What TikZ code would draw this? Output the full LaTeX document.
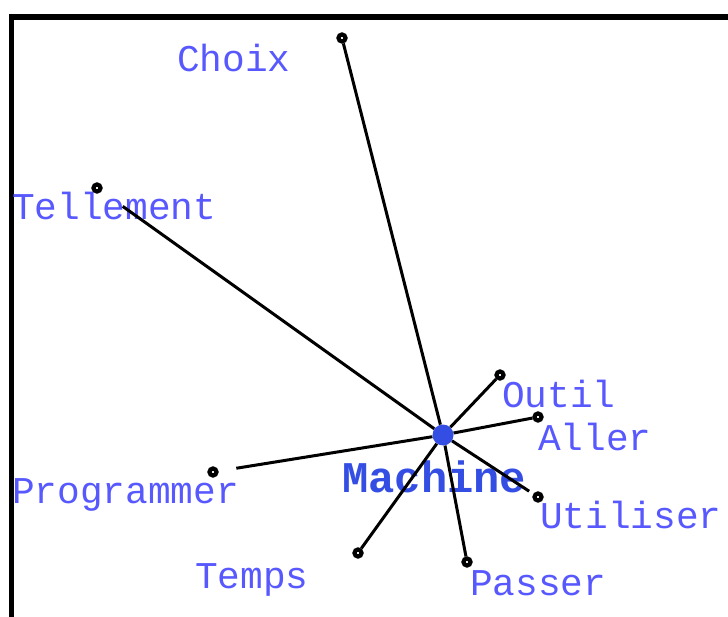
\documentclass[tikz,border=0pt]{standalone}
\usepackage{fontspec}
\usepackage{xcolor}
\newfontfamily\wordfont{Liberation Mono}
\definecolor{wordblue}{RGB}{88,88,255}
\definecolor{hubblue}{RGB}{52,78,228}
\tikzset{
	word/.style={anchor=base west, inner sep=0pt, text=wordblue, font=\wordfont\fontsize{37.8}{40}\selectfont},
	hubword/.style={anchor=base west, inner sep=0pt, text=hubblue, font=\wordfont\bfseries\fontsize{43.8}{46}\selectfont},
	dot/.style={circle, draw=black, fill=white, line width=4.2pt, inner sep=0pt, minimum size=7pt},
	hub/.style={circle, fill=hubblue, inner sep=0pt, minimum size=21pt},
	link/.style={line width=3pt}
}

\begin{document}
\begin{tikzpicture}[x=1pt, y=-1pt]
        \useasboundingbox (0, 0) rectangle (728, 617);
        \draw[line width=5.5pt] (11.5, 620) -- (11.5, 17) -- (731, 17);
        % labels
        \node[word] (choix_lbl) at (177, 72) {Choix};
        \node[word] (tellement_lbl) at (12, 220) {Tellement};
        \node[word] (programmer_lbl) at (12, 503) {Programmer};
        \node[word] (temps_lbl) at (195, 588) {Temps};
        \node[word] (outil_lbl) at (502, 407) {Outil};
        \node[word] (aller_lbl) at (538, 450) {Aller};
        \node[word] (utiliser_lbl) at (540, 528) {Utiliser};
        \node[word] (passer_lbl) at (470, 595) {Passer};
        \node[hubword] (machine_lbl) at (342, 492) {Machine};
        % points
        \node[hub] (machine) at (443, 435) {};
        \node[dot] (choix) at (342, 38) {};
        \node[dot] (tellement) at (97, 188) {};
        \node[dot] (programmer) at (213, 472) {};
        \node[dot] (temps) at (358, 553) {};
        \node[dot] (outil) at (500, 375) {};
        \node[dot] (aller) at (538, 417) {};
        \node[dot] (utiliser) at (538, 497) {};
        \node[dot] (passer) at (467, 562) {};
        % links
        \draw[link] (machine) -- (choix);
        \draw[link, shorten >=26pt] (machine) -- (tellement);
        \draw[link, shorten >=18pt] (machine) -- (programmer);
        \draw[link] (machine) -- (temps);
        \draw[link] (machine) -- (outil);
        \draw[link] (machine) -- (aller);
        \draw[link, shorten >=5pt] (machine) -- (utiliser);
        \draw[link] (machine) -- (passer);
    \end{tikzpicture}
\end{document}
